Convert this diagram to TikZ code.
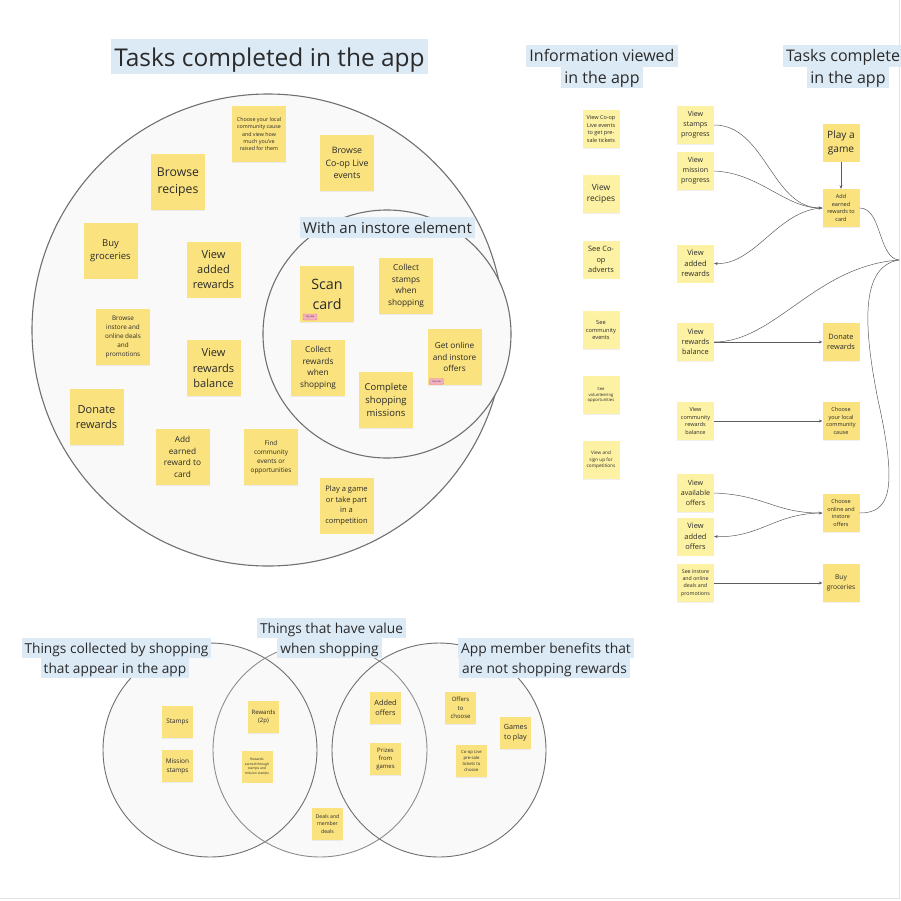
\documentclass[tikz,border=0pt]{standalone}
\usepackage{fontspec}
\setmainfont{Open Sans}
\usetikzlibrary{arrows.meta,shadows}

\definecolor{stickyyellow}{HTML}{FAE27F}
\definecolor{stickylight}{HTML}{FDF2A4}
\definecolor{labelblue}{HTML}{DCEAF5}
\definecolor{ringfill}{HTML}{F9F9F9}
\definecolor{ringline}{HTML}{707070}
\definecolor{inktext}{HTML}{2A2A2A}
\definecolor{tagpink}{HTML}{F2AFC0}
\definecolor{linkgrey}{HTML}{5C5C5C}
\definecolor{framegrey}{HTML}{E3E3E3}

% sticky text: glyphs a bit narrower than the line pitch
\newcommand\fsz[1]{\fontsize{\fpeval{0.92*#1}}{\fpeval{1.28*#1}}\selectfont}

\tikzset{
  sticky/.style={fill=stickyyellow, minimum width=54pt, minimum height=56pt, inner sep=1pt,
    align=center, text=inktext, font=\fsz{#1},
    drop shadow={shadow xshift=0.4pt, shadow yshift=-0.9pt, opacity=0.12}},
  stickymid/.style={sticky=#1, minimum width=37pt, minimum height=38pt},
  stickytiny/.style={sticky=#1, minimum width=31pt, minimum height=32pt},
  pale/.style={fill=stickylight},
  heading/.style 2 args={fill=labelblue, text=inktext, inner xsep=3pt, inner ysep=0pt, anchor=base,
    font=\fsz{#1}, text height=#2pt, text depth=\fpeval{0.3*#2}pt},
  toptag/.style={fill=tagpink, draw=tagpink!75!red, rounded corners=1pt, inner sep=0.5pt,
    font=\fsz{2.4}, text=inktext, minimum width=14pt, minimum height=6pt},
  ring/.style={draw=ringline, line width=1.1pt, fill=ringfill},
  link/.style={draw=linkgrey, line width=0.5pt, -{Stealth[length=3.5pt,width=3pt]}},
  plainlink/.style={draw=linkgrey, line width=0.5pt}
}

\begin{document}
\begin{tikzpicture}[x=1pt,y=-1pt]
\useasboundingbox (0,0) rectangle (901,900);
\draw[framegrey] (0,898.5) -- (899.5,898.5) -- (899.5,0);

% big board: tasks completed in the app
\draw[ring] (268,330) circle[radius=236pt];
\draw[ring] (387,334) circle[radius=124pt];
\node[heading={26.6}{27}] (title) at (269.5,66) {Tasks completed in the app};
\node[heading={16.4}{16.4}] (instore) at (387.5,233.3) {With an instore element};

\node[sticky=5.8] (cause) at (259,134) {Choose your local\\community cause\\and view how\\much you've\\raised for them};
\node[sticky=9.6] (coopLive) at (347,163) {Browse\\Co-op Live\\events};
\node[sticky=13.3] (recipes) at (178,182) {Browse\\recipes};
\node[sticky=10.3] (groceries) at (110.5,250.5) {Buy\\groceries};
\node[sticky=12] (addedRewards) at (213.5,269.5) {View\\added\\rewards};
\node[sticky=6.9] (deals) at (123,337) {Browse\\instore and\\online deals\\and\\promotions};
\node[sticky=12] (balance) at (213.5,368) {View\\rewards\\balance};
\node[sticky=15.5] (scan) at (327,294) {Scan\\card};
\node[sticky=9] (collectStamps) at (406,286) {Collect\\stamps\\when\\shopping};
\node[sticky=9] (collectRewards) at (318,368) {Collect\\rewards\\when\\shopping};
\node[sticky=8.9] (onlineOffers) at (454.5,357) {Get online\\and instore\\offers};
\node[sticky=10.3] (missions) at (386,400) {Complete\\shopping\\missions};
\node[sticky=12] (donate) at (96.5,417) {Donate\\rewards};
\node[sticky=9] (addEarned) at (182.5,457) {Add\\earned\\reward to\\card};
\node[sticky=7] (findCommunity) at (271,457) {Find\\community\\events or\\opportunities};
\node[sticky=8.2] (playGame) at (346.5,505.5) {Play a game\\or take part\\in a\\competition};
\node[toptag] (scanTag) at (310,317) {Top task};
\node[toptag] (offersTag) at (436.5,381.5) {Top task};

% information viewed in the app
\node[heading={17.4}{17}] (infoA) at (602,61.7) {Information viewed};
\node[heading={17.4}{17}] (infoB) at (602,83.3) {in the app};
\node[stickymid=6, pale] (infoCoop) at (601,129) {View Co-op\\Live events\\to get pre-\\sale tickets};
\node[stickymid=9.2, pale] (infoRecipes) at (601,194) {View\\recipes};
\node[stickymid=8, pale] (infoAdverts) at (601,259.5) {See Co-\\op\\adverts};
\node[stickymid=6.2, pale] (infoCommunity) at (601,330) {See\\community\\events};
\node[stickymid=4.6, pale] (infoVolunteer) at (601,395) {See\\volunteering\\opportunities};
\node[stickymid=5.1, pale] (infoCompetitions) at (601,460) {View and\\sign up for\\competitions};

% tasks completed: flow
\node[heading={17.4}{17}] (flowA) at (848,61.7) {Tasks completed};
\node[heading={17.4}{17}] (flowB) at (848,83.3) {in the app};
\coordinate (hub) at (899,260);

\node[stickymid=7.7, pale] (stampsProgress) at (695.5,125) {View\\stamps\\progress};
\node[stickymid=7.7, pale] (missionProgress) at (695.5,171) {View\\mission\\progress};
\node[stickymid=8.2, pale] (viewAddedRewards) at (695.5,263.5) {View\\added\\rewards};
\node[stickymid=8, pale] (viewBalance) at (695.5,342) {View\\rewards\\balance};
\node[stickymid=6, pale] (viewCommunity) at (695.5,421) {View\\community\\rewards\\balance};
\node[stickymid=7.7, pale] (viewAvailable) at (695.5,493) {View\\available\\offers};
\node[stickymid=8.1, pale] (viewAddedOffers) at (695.5,536.5) {View\\added\\offers};
\node[stickymid=5.7, pale] (seeDeals) at (695.5,583) {See instore\\and online\\deals and\\promotions};

\node[stickymid=11] (playGameR) at (841,142.5) {Play a\\game};
\node[stickymid=6] (addEarnedR) at (841,208) {Add\\earned\\rewards to\\card};
\node[stickymid=8] (donateR) at (841,342) {Donate\\rewards};
\node[stickymid=6] (chooseCause) at (841,421) {Choose\\your local\\community\\cause};
\node[stickymid=6] (chooseOffers) at (841,513) {Choose\\online and\\instore\\offers};
\node[stickymid=7.2] (buyGroceries) at (841,583) {Buy\\groceries};

\draw[link] (playGameR) -- (addEarnedR);
\draw[link] (stampsProgress.east) .. controls (765,125) and (772,208) .. (addEarnedR.west);
\draw[link] (missionProgress.east) .. controls (760,173) and (785,208) .. (addEarnedR.west);
\draw[link] (addEarnedR.west) .. controls (778,210) and (755,265) .. (viewAddedRewards.east);
\draw[plainlink] (addEarnedR.east) .. controls (882,208) and (878,258) .. (hub);
\draw[plainlink] (hub) .. controls (815,266) and (775,342) .. (viewBalance.east);
\draw[plainlink] (hub) .. controls (862,266) and (862,320) .. (878,400)
  .. controls (898,490) and (890,513) .. (chooseOffers.east);
\draw[link] (viewBalance) -- (donateR);
\draw[link] (viewCommunity) -- (chooseCause);
\draw[link] (viewAvailable.east) .. controls (765,495) and (775,513) .. (chooseOffers.west);
\draw[link] (chooseOffers.west) .. controls (775,513) and (760,538) .. (viewAddedOffers.east);
\draw[link] (seeDeals) -- (buyGroceries);

% venn of rewards and benefits
\fill[ringfill] (210,750) circle[radius=107pt];
\fill[ringfill] (320,750) circle[radius=107pt];
\fill[ringfill] (439,750) circle[radius=107pt];
\draw[ringline, line width=0.9pt] (210,750) circle[radius=107pt];
\draw[ringline!80, line width=0.9pt] (320,750) circle[radius=107pt];
\draw[ringline, line width=0.9pt] (439,750) circle[radius=107pt];

\node[heading={14.9}{15.4}] (collectedA) at (116.5,653.3) {Things collected by shopping};
\node[heading={14.9}{15.4}] (collectedB) at (115,673.3) {that appear in the app};
\node[heading={14.9}{15.4}] (valueA) at (331.5,633.3) {Things that have value};
\node[heading={14.9}{15.4}] (valueB) at (329.5,653.3) {when shopping};
\node[heading={15}{15.4}] (benefitsA) at (546,653.3) {App member benefits that};
\node[heading={15}{15.4}] (benefitsB) at (544.5,673.3) {are not shopping rewards};

\node[stickytiny=7] (vStamps) at (177.5,722) {Stamps};
\node[stickytiny=7] (vMission) at (177.5,766) {Mission\\stamps};
\node[stickytiny=6.5] (vRewards) at (263.5,717) {Rewards\\(2p)};
\node[stickytiny=3.6] (vEarned) at (257,766.5) {Rewards\\earned through\\stamps and\\mission stamps};
\node[stickytiny=5.6] (vDeals) at (327.5,824) {Deals and\\member\\deals};
\node[stickytiny=8] (vAdded) at (385.5,708) {Added\\offers};
\node[stickytiny=6.5] (vPrizes) at (385.5,759) {Prizes\\from\\games};
\node[stickytiny=6.5] (vOffers) at (460.5,708) {Offers\\to\\choose};
\node[stickytiny=7.8] (vGames) at (515.5,733) {Games\\to play};
\node[stickytiny=4.6] (vTickets) at (471.5,761) {Co-op Live\\pre-sale\\tickets to\\choose};
\end{tikzpicture}
\end{document}
